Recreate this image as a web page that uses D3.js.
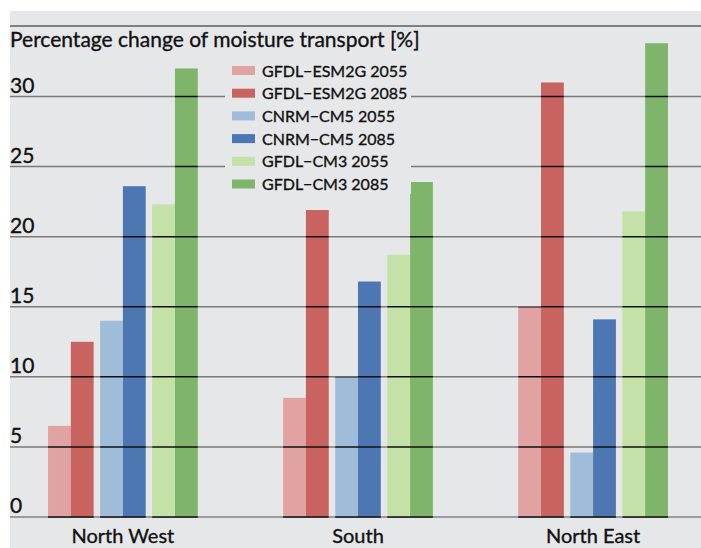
<!DOCTYPE html>
<html>
<head>
<meta charset="utf-8">
<script src="https://cdn.jsdelivr.net/npm/d3@7"></script>
<style>
  body { margin: 0; background: #fff; }
  text { font-family: Lato, "Open Sans", sans-serif; fill: #111; stroke: #111; stroke-width: 0.35px; }
</style>
</head>
<body>
<svg width="701" height="548"></svg>
<script>
// data
var regions = ["North West", "South", "North East"];
var models = ["GFDL\u2212ESM2G", "CNRM\u2212CM5", "GFDL\u2212CM3"];
var years = ["2055", "2085"];
// values per region, in model/year order
var gfdlEsm2g2055 = [6.5, 8.5, 15.0];
var gfdlEsm2g2085 = [12.5, 21.9, 31.0];
var cnrm2055 = [14.0, 10.0, 4.6];
var cnrm2085 = [23.6, 16.8, 14.1];
var gfdlCm32055 = [22.3, 18.7, 21.8];
var gfdlCm32085 = [32.0, 23.9, 33.8];
var yTicks = [0, 5, 10, 15, 20, 25, 30];

var series = [
  { model: models[0], year: years[0], values: gfdlEsm2g2055, color: "#e0a3a2" },
  { model: models[0], year: years[1], values: gfdlEsm2g2085, color: "#c8635f" },
  { model: models[1], year: years[0], values: cnrm2055, color: "#9fbcd9" },
  { model: models[1], year: years[1], values: cnrm2085, color: "#4c77b2" },
  { model: models[2], year: years[0], values: gfdlCm32055, color: "#c4e1a8" },
  { model: models[2], year: years[1], values: gfdlCm32085, color: "#7fb56b" }
];

var svg = d3.select("svg");

// grey panel
svg.append("rect").attr("x", 10).attr("y", 11).attr("width", 691).attr("height", 537)
  .attr("fill", "#e6e7e9");
svg.append("line").attr("x1", 10).attr("x2", 701).attr("y1", 26).attr("y2", 26)
  .attr("stroke", "#808080").attr("stroke-width", 2);

var y = d3.scaleLinear().domain([0, 30]).range([517, 96.5]);
var x0 = d3.scaleBand().domain(regions).range([13, 703]).paddingInner(0.363).paddingOuter(0.149);
var x1 = d3.scaleBand().domain(models).range([0, x0.bandwidth()]).paddingInner(0.124);
var x2 = d3.scaleBand().domain(years).range([0, x1.bandwidth()]);

var bars = [];
series.forEach(function(s) {
  s.values.forEach(function(v, i) {
    bars.push({ region: regions[i], model: s.model, year: s.year, value: v, color: s.color });
  });
});
function bx(d) { return x0(d.region) + x1(d.model) + x2(d.year); }

// grid behind bars
svg.append("g").selectAll("line").data(yTicks).enter().append("line")
  .attr("x1", 10).attr("x2", 701)
  .attr("y1", function(d) { return y(d); }).attr("y2", function(d) { return y(d); })
  .attr("stroke", function(d) { return d === 0 ? "#9a9a9a" : "#7a7a7a"; })
  .attr("stroke-width", function(d) { return d === 0 ? 2 : 1.5; });

// bars
svg.append("g").selectAll("rect").data(bars).enter().append("rect")
  .attr("x", bx)
  .attr("y", function(d) { return y(d.value); })
  .attr("width", x2.bandwidth())
  .attr("height", function(d) { return y(0) - y(d.value); })
  .attr("fill", function(d) { return d.color; });

// black grid segments on top of bars
var clip = svg.append("clipPath").attr("id", "barclip");
clip.selectAll("rect").data(bars).enter().append("rect")
  .attr("x", bx)
  .attr("y", function(d) { return y(d.value); })
  .attr("width", x2.bandwidth())
  .attr("height", function(d) { return y(0) - y(d.value) + 2; });
svg.append("g").attr("clip-path", "url(#barclip)")
  .selectAll("line").data(yTicks).enter().append("line")
  .attr("x1", 10).attr("x2", 701)
  .attr("y1", function(d) { return y(d); }).attr("y2", function(d) { return y(d); })
  .attr("stroke", "#111").attr("stroke-width", 1.5);

// tick labels
svg.append("g").selectAll("text").data(yTicks).enter().append("text")
  .attr("x", 10).attr("y", function(d) { return y(d) - 4; })
  .attr("font-size", 21)
  .text(function(d) { return d; });

// category labels
svg.append("g").selectAll("text").data(regions).enter().append("text")
  .attr("x", function(d) { return x0(d) + x0.bandwidth() / 2; })
  .attr("y", 543)
  .attr("text-anchor", "middle")
  .attr("font-size", 20)
  .text(function(d) { return d; });

// title
svg.append("text").attr("x", 10).attr("y", 47).attr("font-size", 21)
  .text("Percentage change of moisture transport [%]");

// legend
var legend = svg.append("g");
legend.append("rect").attr("x", 225).attr("y", 58).attr("width", 186).attr("height", 136)
  .attr("fill", "#e6e7e9");
var item = legend.selectAll("g").data(series).enter().append("g")
  .attr("transform", function(d, i) { return "translate(232," + (66 + i * 22.7) + ")"; });
item.append("rect").attr("width", 23).attr("height", 9).attr("fill", function(d) { return d.color; });
item.append("text").attr("x", 30).attr("y", 10.5).attr("font-size", 16)
  .text(function(d) { return d.model + " " + d.year; });
</script>
</body>
</html>
